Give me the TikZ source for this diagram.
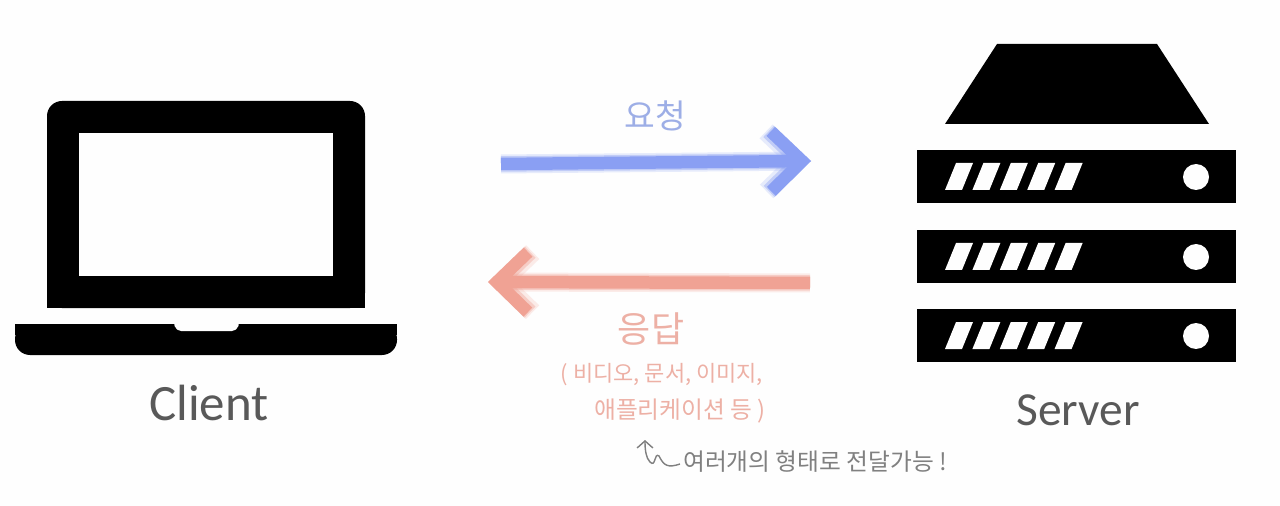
\documentclass[tikz,border=0pt]{standalone}
\usepackage{fontspec}
\setmainfont{Carlito}
\newfontfamily\krfont{Noto Sans CJK KR}
\usetikzlibrary{arrows.meta}
\definecolor{reqblue}{HTML}{8A9FF3}
\definecolor{resred}{HTML}{F0A294}
\definecolor{reqtext}{HTML}{9DAEE6}
\definecolor{restext}{HTML}{EDB0A5}
\definecolor{notegray}{HTML}{808080}
\definecolor{papercol}{HTML}{FEFEFE}
\tikzset{
  softarrow/.style={draw=#1,line width=0.25cm,
    -{Straight Barb[length=0.62cm,width=1.2cm]},
    preaction={draw=#1,line width=0.38cm,opacity=0.2,
      -{Straight Barb[length=0.62cm,width=1.2cm]}},
    preaction={draw=#1,line width=0.31cm,opacity=0.4,
      -{Straight Barb[length=0.62cm,width=1.2cm]}}},
  handlabel/.style={inner sep=0pt,font=\krfont\fontsize{#1}{#1}\selectfont},
  rackslot/.style={fill=papercol,draw=none}
}

\begin{document}
\begin{tikzpicture}[x=0.02cm,y=-0.02cm]
      \useasboundingbox[fill=papercol] (0,0) rectangle (1280,506);

      % laptop
      \fill[black,rounded corners=0.3cm] (47,308) -- (47,101) -- (365,101) -- (365,308) -- cycle;
      \fill[black] (47,290) rectangle (365,308);
      \fill[papercol] (79,133) rectangle (333,276);
      \fill[black,rounded corners=0.3cm] (15,324) -- (15,355) -- (397,355) -- (397,324) -- cycle;
      \fill[black] (15,324) rectangle (397,335);
      \fill[papercol,rounded corners=0.1cm] (173,320) -- (176,331) -- (237,331) -- (240,320) -- cycle;

      % server
      \fill[black] (997,44) -- (1157,44) -- (1209,124) -- (945,124) -- cycle;
      \foreach \y in {150,230,309} {
        \fill[black] (917,\y) rectangle (1236,\y+53);
        \fill[papercol] (1196,\y+27) circle (0.26cm);
        \foreach \x in {0,...,4}
          \fill[rackslot] (945+\x*27.4,\y+40) -- (956+\x*27.4,\y+13) -- (973+\x*27.4,\y+13) -- (962+\x*27.4,\y+40) -- cycle;
      }

      \begin{scope}[every node/.style={inner sep=0pt}]
        \coordinate (reqstart) at (501,164);
        \coordinate (reqend) at (811,161);
        \coordinate (resstart) at (810,283);
        \coordinate (resend) at (488,282);
        \node[text=reqtext,handlabel=19pt] (reqlabel) at (655,116) {요청};
        \node[text=restext,handlabel=20.5pt] (reslabel) at (651,329) {응답};
        \node[text=restext,handlabel=12.5pt] (typesa) at (662,375) {( 비디오, 문서, 이미지,};
        \node[text=restext,handlabel=13.5pt] (typesb) at (680,411) {애플리케이션 등 )};
        \node[text=notegray,handlabel=13.5pt] (note) at (815,462) {여러개의 형태로 전달가능 !};
        \node[text=black!65,font=\fontsize{29}{29}\selectfont] (client) at (209,403) {Client};
        \node[text=black!65,font=\fontsize{27}{27}\selectfont] (server) at (1078,410) {Server};
        \coordinate (notestart) at (680,464);
        \coordinate (noteloop) at (659,456);
        \coordinate (noteend) at (645,440);
      \end{scope}

      \begin{scope}
        \path[softarrow=reqblue] (reqstart) -- (reqend);
        \path[softarrow=resred] (resstart) -- (resend);
        \draw[notegray,line width=0.8pt,-{Straight Barb[length=4pt,width=9pt]}]
          (notestart) .. controls (668,468) and (664,466) .. (noteloop)
          .. controls (654,452) and (656,468) .. (650,462)
          .. controls (646,458) and (645,450) .. (noteend);
      \end{scope}
    \end{tikzpicture}
\end{document}
